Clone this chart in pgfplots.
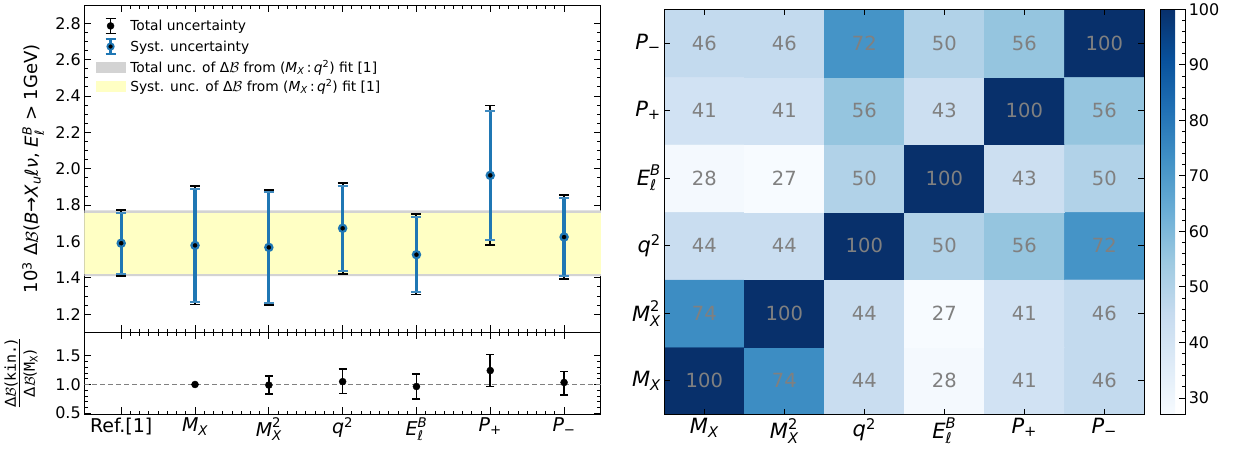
\documentclass[border=0pt]{standalone}
\usepackage{fontspec}
\usepackage{amsmath}
\usepackage{pgfplots}
\usepackage{pgfplotstable}
\pgfplotsset{compat=1.18}
\setmainfont{DejaVu Sans}
\setmonofont{DejaVu Sans Mono}
\newcommand{\mi}[1]{\textit{#1}}
\definecolor{czero}{RGB}{31,119,180}
\definecolor{bandgray}{RGB}{211,211,211}
\definecolor{bandyellow}{RGB}{255,255,196}
\definecolor{txtgray}{RGB}{128,128,128}
\pgfplotsset{
  /pgf/number format/assume math mode=true,
  colormap={mplblues}{rgb255=(247,251,255) rgb255=(222,235,247) rgb255=(198,219,239) rgb255=(158,202,225) rgb255=(107,174,214) rgb255=(66,146,198) rgb255=(33,113,181) rgb255=(8,81,156) rgb255=(8,48,107)},
}
\pgfplotstableread{
x y tp tm sp sm
0 1.590 0.181 0.181 0.166 0.168
1 1.578 0.327 0.325 0.312 0.312
2 1.567 0.317 0.319 0.306 0.306
3 1.672 0.249 0.250 0.231 0.233
4 1.527 0.222 0.219 0.207 0.204
5 1.963 0.384 0.383 0.356 0.354
6 1.624 0.229 0.233 0.215 0.215
}\topdata
\pgfplotstableread{
x y ep em
1 1.000 0.000 0.000
2 0.990 0.160 0.160
3 1.050 0.220 0.210
4 0.965 0.220 0.220
5 1.243 0.283 0.278
6 1.035 0.190 0.215
}\ratiodata
\pgfplotstableread{
x y c
0 0 100
1 0 74
2 0 44
3 0 28
4 0 41
5 0 46
0 1 74
1 1 100
2 1 44
3 1 27
4 1 41
5 1 46
0 2 44
1 2 44
2 2 100
3 2 50
4 2 56
5 2 72
0 3 28
1 3 27
2 3 50
3 3 100
4 3 43
5 3 50
0 4 41
1 4 41
2 4 56
3 4 43
4 4 100
5 4 56
0 5 46
1 5 46
2 5 72
3 5 50
4 5 56
5 5 100
}\corrdata
\begin{document}
\begin{tikzpicture}
\path[use as bounding box] (0pt,0pt) rectangle (1233pt,451pt);
% ---------------- top panel
\begin{axis}[
  at={(84.3pt,446pt)}, anchor=north west,
  scale only axis, width=516.7pt, height=327.3pt,
  xmin=-0.5, xmax=6.5, ymin=1.1, ymax=2.9,
  xtick={0,1,2,3,4,5,6}, xticklabels={},
  ytick={1.2,1.4,1.6,1.8,2.0,2.2,2.4,2.6,2.8},
  minor x tick num=7, minor y tick num=3,
  tick align=inside, major tick length=7pt, minor tick length=3.5pt,
  tick style={black, line width=0.8pt},
  axis line style={line width=1pt},
  yticklabel style={font=\fontsize{16}{18}\selectfont, /pgf/number format/.cd, fixed, fixed zerofill, precision=1},
  ylabel={10\textsuperscript{3} Δ$\mathcal{B}$(\mi{B}→\mi{X}\textsubscript{\mi{u}}\mi{ℓν}, \mi{E}$_{\mi{ℓ}}^{\mi{B}}$ > 1GeV)},
  ylabel style={at={(axis description cs:-0.099,0.5)}, anchor=center, rotate=0, font=\fontsize{18}{20}\selectfont},
  legend style={at={(axis description cs:0.022,0.962)}, anchor=north west, draw=none, fill=none,
    font=\fontsize{13.8}{16}\selectfont, row sep=3.5pt, inner sep=0pt,
    nodes={inner xsep=5pt, inner ysep=1pt}},
  legend cell align=left,
]
\addplot[draw=none, fill=bandgray, forget plot] coordinates {(-0.5,1.409) (6.5,1.409) (6.5,1.771) (-0.5,1.771) (-0.5,1.409)};
\addplot[draw=none, fill=bandyellow, forget plot] coordinates {(-0.5,1.422) (6.5,1.422) (6.5,1.756) (-0.5,1.756) (-0.5,1.422)};
\addplot[black, only marks, mark=*, mark size=2.5pt,
  legend image code/.code={
    \draw[black, line width=1.6pt] (14.5pt,-7.5pt) -- (14.5pt,7.5pt);
    \draw[black, line width=1.6pt] (9.5pt,7.5pt) -- (19.5pt,7.5pt);
    \draw[black, line width=1.6pt] (9.5pt,-7.5pt) -- (19.5pt,-7.5pt);
    \fill[black] (14.5pt,0pt) circle (3.5pt);},
  error bars/.cd, y dir=both, y explicit,
  error bar style={line width=2pt, black},
  error mark options={rotate=90, line width=1.8pt, mark size=5pt, black}]
  table[x=x, y=y, y error plus=tp, y error minus=tm] {\topdata};
\addlegendentry{Total uncertainty}
\addplot[czero, only marks, mark=*, mark size=3.6pt, mark options={fill=black, draw=czero, line width=2.2pt},
  legend image code/.code={
    \draw[czero, line width=2.6pt] (14.5pt,-7.5pt) -- (14.5pt,7.5pt);
    \draw[czero, line width=1.6pt] (9.5pt,7.5pt) -- (19.5pt,7.5pt);
    \draw[czero, line width=1.6pt] (9.5pt,-7.5pt) -- (19.5pt,-7.5pt);
    \filldraw[fill=black, draw=czero, line width=1.8pt] (14.5pt,0pt) circle (3.2pt);},
  error bars/.cd, y dir=both, y explicit,
  error bar style={line width=3.2pt, czero},
  error mark options={rotate=90, line width=1.8pt, mark size=5pt, czero!85!white}]
  table[x=x, y=y, y error plus=sp, y error minus=sm] {\topdata};
\addlegendentry{Syst. uncertainty}
\addlegendimage{legend image code/.code={\fill[bandgray] (0pt,-5pt) rectangle (29pt,5pt);}}
\addlegendentry{Total unc. of Δ$\mathcal{B}$ from (\mi{M}\textsubscript{\mi{X}}\,:\,\mi{q}\textsuperscript{2}) fit [1]}
\addlegendimage{legend image code/.code={\fill[bandyellow] (0pt,-5pt) rectangle (29pt,5pt);}}
\addlegendentry{Syst. unc. of Δ$\mathcal{B}$ from (\mi{M}\textsubscript{\mi{X}}\,:\,\mi{q}\textsuperscript{2}) fit [1]}
\end{axis}
% ---------------- bottom panel
\begin{axis}[
  at={(84.3pt,118.7pt)}, anchor=north west,
  scale only axis, width=516.7pt, height=82pt,
  xmin=-0.5, xmax=6.5, ymin=0.48, ymax=1.91,
  xtick={0,1,2,3,4,5,6},
  xticklabels={Ref.[1], {$\mi{M}_{\mi{X}}$}, {$\mi{M}_{\mi{X}}^{\text{2}}$}, {$\mi{q}^{\text{2}}$}, {$\mi{E}_{\mi{ℓ}}^{\mi{B}}$}, {$\mi{P}_{\text{+}}$}, {$\mi{P}_{\text{−}}$}},
  ytick={0.5,1.0,1.5},
  minor x tick num=7, minor y tick num=4,
  tick align=inside, major tick length=7pt, minor tick length=3.5pt,
  tick style={black, line width=0.8pt},
  axis line style={line width=1pt},
  xticklabel style={font=\fontsize{19}{21}\selectfont},
  yticklabel style={font=\fontsize{16}{18}\selectfont, /pgf/number format/.cd, fixed, fixed zerofill, precision=1},
  ylabel={\fontsize{15}{15}\selectfont\begin{tabular}{@{}c@{}}Δ$\mathcal{B}$(\texttt{kin.})\\[-1pt]\hline\rule{0pt}{15pt}Δ$\mathcal{B}$(\texttt{M}\textsubscript{\texttt{X}})\end{tabular}},
  ylabel style={at={(axis description cs:-0.1206,0.5)}, anchor=center},
]
\addplot[txtgray, dashed, line width=1.2pt, dash pattern=on 5pt off 3pt] coordinates {(-0.5,1) (6.5,1)};
\addplot[black, only marks, mark=*, mark size=3.5pt,
  error bars/.cd, y dir=both, y explicit,
  error bar style={line width=1.6pt, black},
  error mark options={rotate=90, line width=1.6pt, mark size=4pt, black}]
  table[x=x, y=y, y error plus=ep, y error minus=em] {\ratiodata};
\end{axis}
% ---------------- correlation matrix
\begin{axis}[
  at={(664.3pt,441.7pt)}, anchor=north west,
  scale only axis, width=480pt, height=405.3pt,
  xmin=-0.5, xmax=5.5, ymin=-0.5, ymax=5.5, enlargelimits=false,
  xtick={0,1,2,3,4,5}, ytick={0,1,2,3,4,5},
  xticklabels={{$\mi{M}_{\mi{X}}$}, {$\mi{M}_{\mi{X}}^{\text{2}}$}, {$\mi{q}^{\text{2}}$}, {$\mi{E}_{\mi{ℓ}}^{\mi{B}}$}, {$\mi{P}_{\text{+}}$}, {$\mi{P}_{\text{−}}$}},
  yticklabels={{$\mi{M}_{\mi{X}}$}, {$\mi{M}_{\mi{X}}^{\text{2}}$}, {$\mi{q}^{\text{2}}$}, {$\mi{E}_{\mi{ℓ}}^{\mi{B}}$}, {$\mi{P}_{\text{+}}$}, {$\mi{P}_{\text{−}}$}},
  tick label style={font=\fontsize{21}{23}\selectfont},
  tick align=inside, major tick length=6pt,
  tick style={black, line width=0.8pt},
  axis line style={line width=1pt},
  axis on top,
  colormap name=mplblues, point meta min=27, point meta max=100,
  colorbar,
  colorbar style={
    at={(parent axis.north east)}, anchor=north west, xshift=8pt,
    scale only axis, width=24.4pt, height=405.3pt,
    ytick={30,40,50,60,70,80,90,100}, minor y tick num=4,
    ytick pos=right, yticklabel pos=right, tick align=inside,
    major tick length=6pt, minor tick length=3pt,
    tick style={black, line width=0.8pt},
    axis line style={line width=1pt},
    yticklabel style={font=\fontsize{16}{18}\selectfont},
  },
]
\addplot[matrix plot*, mesh/cols=6, point meta=explicit] table[x=x, y=y, meta=c] {\corrdata};
\addplot[only marks, mark=none, point meta=explicit symbolic, nodes near coords,
  nodes near coords align={anchor=center},
  every node near coord/.append style={anchor=center, text=txtgray, font=\fontsize{19.5}{21}\selectfont}]
  table[x=x, y=y, meta=c] {\corrdata};
\end{axis}
\end{tikzpicture}
\end{document}
